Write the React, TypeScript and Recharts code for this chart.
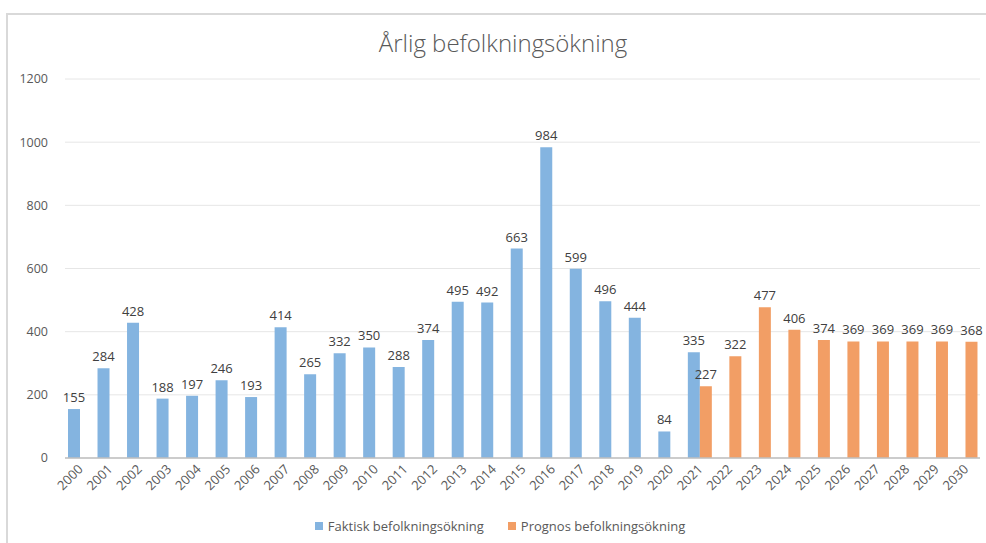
import React from 'react';
import { BarChart, Bar, XAxis, YAxis, CartesianGrid, Legend, LabelList } from 'recharts';

const years = [
  '2000', '2001', '2002', '2003', '2004', '2005', '2006', '2007', '2008', '2009', '2010',
  '2011', '2012', '2013', '2014', '2015', '2016', '2017', '2018', '2019', '2020',
  '2021', '2022', '2023', '2024', '2025', '2026', '2027', '2028', '2029', '2030',
];

const faktisk: (number | null)[] = [
  155, 284, 428, 188, 197, 246, 193, 414, 265, 332, 350,
  288, 374, 495, 492, 663, 984, 599, 496, 444, 84,
  335, null, null, null, null, null, null, null, null, null,
];

const prognos: (number | null)[] = [
  null, null, null, null, null, null, null, null, null, null, null,
  null, null, null, null, null, null, null, null, null, null,
  227, 322, 477, 406, 374, 369, 369, 369, 369, 368,
];

const yTicks = [0, 200, 400, 600, 800, 1000, 1200];

const COLORS = {
  faktisk: '#84B4E0',
  prognos: '#F29E65',
};

const FONT = '"Open Sans", "Liberation Sans", sans-serif';

const chartData = years.map((year, i) => ({
  year,
  faktisk: faktisk[i],
  prognos: prognos[i],
}));

const YearTick = (props: any) => {
  const { x, y, payload } = props;
  return (
    <g transform={`translate(${x + 4},${y + 12})`}>
      <text
        x={0}
        y={0}
        textAnchor="end"
        transform="rotate(-45)"
        fill="#595959"
        fontSize={13}
        fontFamily={FONT}
      >
        {payload.value}
      </text>
    </g>
  );
};

const LegendContent = () => (
  <div
    style={{
      display: 'flex',
      justifyContent: 'center',
      gap: 24,
      fontFamily: FONT,
      fontSize: 13,
      color: '#595959',
      paddingLeft: 14,
    }}
  >
    <span style={{ display: 'flex', alignItems: 'center' }}>
      <span style={{ width: 8, height: 8, background: COLORS.faktisk, marginRight: 5 }} />
      Faktisk befolkningsökning
    </span>
    <span style={{ display: 'flex', alignItems: 'center' }}>
      <span style={{ width: 8, height: 8, background: COLORS.prognos, marginRight: 5 }} />
      Prognos befolkningsökning
    </span>
  </div>
);

const App: React.FC = () => {
  return (
    <div style={{ position: 'absolute', left: 0, top: 0, width: 986, height: 543, background: '#fff' }}>
      <div
        style={{
          position: 'absolute',
          left: 6,
          top: 13,
          width: 980,
          height: 530,
          borderTop: '2px solid #d9d9d9',
          borderLeft: '2px solid #d9d9d9',
          boxSizing: 'border-box',
        }}
      />
      <div
        style={{
          position: 'absolute',
          left: 10,
          top: 26,
          width: 986,
          textAlign: 'center',
          fontFamily: FONT,
          fontSize: 24,
          fontWeight: 300,
          color: '#595959',
        }}
      >
        Årlig befolkningsökning
      </div>
      <BarChart
        width={986}
        height={543}
        data={chartData}
        margin={{ top: 79, right: 6, left: 0, bottom: 35 }}
        barGap={0}
        barSize={12}
      >
        <CartesianGrid vertical={false} stroke="#e6e6e6" />
        <XAxis
          dataKey="year"
          interval={0}
          height={50}
          tickLine={false}
          tickSize={0}
          tickMargin={0}
          axisLine={{ stroke: '#bfbfbf', strokeWidth: 1.5 }}
          tick={<YearTick />}
        />
        <YAxis
          domain={[0, 1200]}
          ticks={yTicks}
          width={65}
          axisLine={false}
          tickLine={false}
          tickMargin={11}
          tick={{ fill: '#595959', fontSize: 12.5, fontFamily: FONT }}
        />
        <Legend
          verticalAlign="middle"
          align="center"
          layout="horizontal"
          wrapperStyle={{ top: 517, left: 0, width: 986 }}
          content={<LegendContent />}
        />
        <Bar dataKey="faktisk" name="Faktisk befolkningsökning" fill={COLORS.faktisk} isAnimationActive={false}>
          <LabelList dataKey="faktisk" position="top" offset={7} fill="#404040" fontSize={13} fontFamily={FONT} />
        </Bar>
        <Bar dataKey="prognos" name="Prognos befolkningsökning" fill={COLORS.prognos} isAnimationActive={false}>
          <LabelList dataKey="prognos" position="top" offset={7} fill="#404040" fontSize={13} fontFamily={FONT} />
        </Bar>
      </BarChart>
    </div>
  );
};

export default App;
